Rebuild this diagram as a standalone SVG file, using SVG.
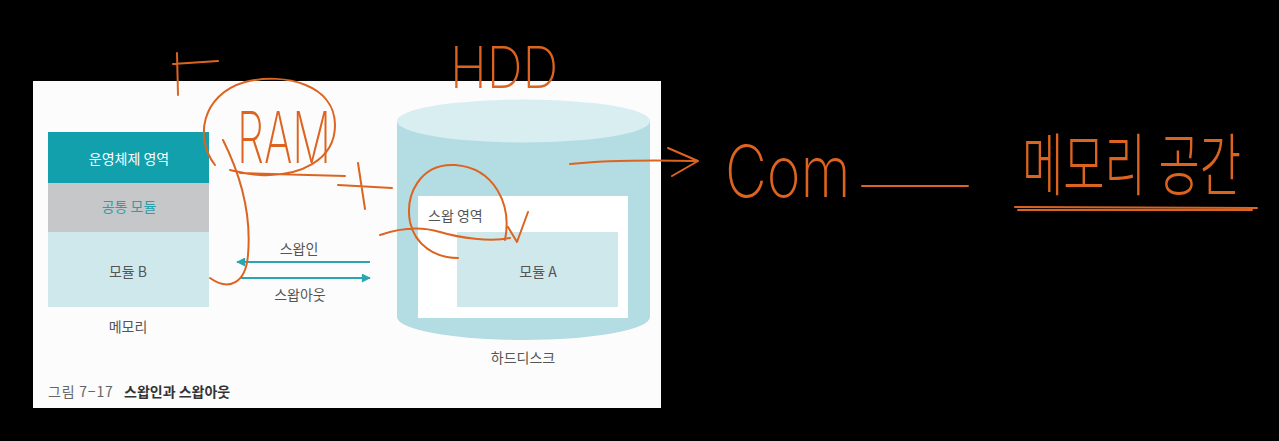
<svg xmlns="http://www.w3.org/2000/svg" width="1279" height="441" viewBox="0 0 1279 441">
<defs>
<marker id="ah" viewBox="0 0 10 10" refX="9" refY="5" markerWidth="10" markerHeight="9" orient="auto-start-reverse" markerUnits="userSpaceOnUse">
<path d="M0,0 L10,5 L0,10 Z" fill="#2aa5b2"/>
</marker>
<style>
.lbl{font-family:"Noto Sans CJK KR","Noto Sans",sans-serif;font-size:14px;fill:#555;text-anchor:middle}
.pen{fill:none;stroke:#dd6420;stroke-width:2;stroke-linecap:round;stroke-linejoin:round}
.hand{font-family:Inter,"Noto Sans CJK KR",sans-serif;font-weight:200;fill:#dd6420}
.conn{stroke:#2aa5b2;stroke-width:2;fill:none}
</style>
</defs>
<rect x="0" y="0" width="1279" height="441" fill="#000"/>
<rect x="33" y="81" width="628" height="327" fill="#fcfcfc"/>

<g id="memory">
<rect x="48" y="132" width="161" height="51" fill="#12a0ad"/>
<text class="lbl" x="129" y="164" style="fill:#ffffff">운영체제 영역</text>
<rect x="48" y="183" width="161" height="49" fill="#c6c7c9"/>
<text class="lbl" x="129" y="212" style="fill:#2b9eab">공통 모듈</text>
<rect x="48" y="232" width="161" height="75" fill="#cfe8ec"/>
<text class="lbl" x="128" y="277">모듈 B</text>
<text class="lbl" x="128" y="332">메모리</text>
</g>

<g id="harddisk">
<path d="M397,121 L397,317 A126.5,23 0 0 0 650,317 L650,121 Z" fill="#b4dce3"/>
<ellipse cx="523.5" cy="121" rx="126.5" ry="21.5" fill="#d9eef1"/>
<text class="lbl" x="523" y="363">하드디스크</text>
</g>

<g id="swap-area">
<rect x="418" y="196" width="210" height="122" fill="#ffffff"/>
<text class="lbl" x="428" y="221" style="text-anchor:start">스왑 영역</text>
</g>

<g id="moduleA">
<rect x="457" y="232" width="161" height="75" fill="#cfe8ec"/>
<text class="lbl" x="538" y="277">모듈 A</text>
</g>

<g id="connectors">
<line class="conn" x1="370" y1="262" x2="237" y2="262" marker-end="url(#ah)"/>
<text class="lbl" x="299" y="254">스왑인</text>
<line class="conn" x1="240" y1="278" x2="370" y2="278" marker-end="url(#ah)"/>
<text class="lbl" x="300" y="300">스왑아웃</text>
</g>

<g id="caption">
<text x="48" y="397" style="font-family:'Noto Sans CJK KR',sans-serif;font-size:14px;fill:#666;letter-spacing:0.8px">그림 7−17</text>
<text x="124" y="397" style="font-family:'Noto Sans CJK KR',sans-serif;font-size:14px;font-weight:bold;fill:#333">스왑인과 스왑아웃</text>
</g>

<g id="annotations">
<path class="pen" d="M173,64 L218,61 M177,53 L178,95"/>
<path class="pen" d="M215,165 C195,140 200,95 245,82 C285,72 335,85 335,125 C335,160 300,177 260,175 C245,174 240,172 230,170 M240,173 L345,176"/>
<path class="pen" d="M223,140 C238,170 252,210 248,255 C246,282 230,292 210,278"/>
<text class="hand" font-size="72" transform="translate(237,163) scale(0.6,1)">RAM</text>
<path class="pen" d="M338,185 L392,188 M358,163 L365,209"/>
<text class="hand" font-size="58" transform="translate(450,88) scale(0.86,1)">HDD</text>
<path class="pen" d="M505,240 C512,205 495,168 455,165 C420,163 405,195 410,222 C415,245 435,258 458,258 M380,235 C400,228 420,226 440,232 C460,238 490,242 510,238 M508,227 L517,242 L528,212"/>
<path class="pen" d="M570,164 C610,160 650,160 695,161 M668,148 L698,161 L672,176"/>
<text class="hand" font-size="72" transform="translate(725,197) scale(0.8,1)">Com</text>
<path class="pen" d="M862,186 L968,186"/>
<text class="hand" font-size="68" transform="translate(1022,190) scale(0.66,1)">메모리 공간</text>
<path class="pen" d="M1015,207 L1257,208 M1018,210 L1252,210"/>
</g>
</svg>
